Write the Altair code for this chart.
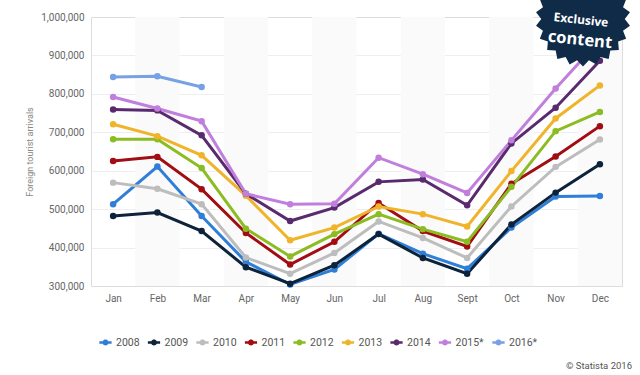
import math
import altair as alt
import pandas as pd

months = ["Jan", "Feb", "Mar", "Apr", "May", "Jun", "Jul", "Aug", "Sept", "Oct", "Nov", "Dec"]
years = ["2008", "2009", "2010", "2011", "2012", "2013", "2014", "2015*", "2016*"]
colors = ["#2f7ed8", "#0d233a", "#bdbdbd", "#a10d12", "#8bbc21", "#f0b42a", "#5a2a6e", "#c07fdc", "#77a1e5"]

# Foreign tourist arrivals (thousands)
v2008 = [513, 611, 482, 363, 304, 343, 436, 384, 345, 452, 533, 534]
v2009 = [482, 491, 443, 349, 306, 354, 435, 373, 332, 460, 543, 617]
v2010 = [569, 553, 513, 374, 332, 386, 468, 425, 373, 507, 610, 681]
v2011 = [625, 636, 552, 438, 356, 415, 516, 443, 403, 566, 637, 716]
v2012 = [682, 682, 607, 449, 377, 435, 487, 448, 415, 558, 703, 753]
v2013 = [721, 690, 640, 535, 419, 452, 507, 487, 455, 599, 736, 822]
v2014 = [759, 757, 692, 540, 469, 504, 571, 577, 510, 671, 764, 886]
v2015 = [792, 762, 729, 540, 513, 514, 634, 591, 542, 679, 814, 940]
v2016 = [844, 846, 818]

series = [v2008, v2009, v2010, v2011, v2012, v2013, v2014, v2015, v2016]
rows = []
for yr, vals in zip(years, series):
    for i, v in enumerate(vals):
        rows.append({"year": yr, "m": i, "month": months[i], "value": v * 1000})
df = pd.DataFrame(rows)

band_idx = [1, 3, 5, 7, 9, 11]
bands = pd.DataFrame({"x": [i - 0.5 for i in band_idx], "x2": [i + 0.5 for i in band_idx]})

W, H = 531, 269

label_expr = "[" + ",".join("'%s'" % m for m in months) + "][datum.value]"

xscale = alt.Scale(domain=[-0.5, 11.5], nice=False, zero=False)
yscale = alt.Scale(domain=[300000, 1000000], nice=False, zero=False)

xaxis = alt.Axis(values=list(range(12)), labelExpr=label_expr, title=None, grid=False,
                 ticks=False, tickSize=0, domain=False, labelPadding=7, labelOverlap=False,
                 labelColor="#666666", labelFontSize=10, labelFont="Roboto")
yaxis = alt.Axis(values=[300000 + 100000 * k for k in range(8)], format=",.0f",
                 title="Foreign tourist arrivals", titleFontSize=9, titleColor="#888888",
                 titleFontWeight="normal", titleFont="Roboto", titlePadding=6,
                 grid=True, gridColor="#dcdcdc", gridDash=[1, 1], gridWidth=1,
                 labelOverlap=False, labelFlush=False,
                 ticks=False, tickSize=0, domain=False, labelPadding=7,
                 labelColor="#666666", labelFontSize=10, labelFont="Roboto")

legend_sym = ("M-1,-0.22L-0.449,-0.22A0.5,0.5 0 0,1 0.449,-0.22L1,-0.22L1,0.22"
              "L0.449,0.22A0.5,0.5 0 0,1 -0.449,0.22L-1,0.22Z")
legend = alt.Legend(
    title=None, orient="none", direction="horizontal", columns=9,
    legendX=8, legendY=319, symbolType=legend_sym, symbolSize=150,
    symbolStrokeWidth=0, symbolOpacity=1, labelFont="Roboto", labelFontSize=10.5,
    labelColor="#555555", labelOffset=4, columnPadding=7.5,
)
color_scale = alt.Scale(domain=years, range=colors)

band_layer = alt.Chart(bands).mark_rect(color="#fafafa").encode(
    x=alt.X("x:Q", scale=xscale, axis=xaxis),
    x2="x2:Q",
    y=alt.value(0),
    y2=alt.value(H),
)

line_layer = alt.Chart(df).mark_line(strokeWidth=3).encode(
    x=alt.X("m:Q", scale=xscale, axis=xaxis),
    y=alt.Y("value:Q", scale=yscale, axis=yaxis),
    color=alt.Color("year:N", scale=color_scale, sort=years, legend=legend),
    detail="year:N",
)

point_layer = alt.Chart(df).mark_circle(size=42, opacity=1).encode(
    x=alt.X("m:Q", scale=xscale, axis=xaxis),
    y=alt.Y("value:Q", scale=yscale, axis=yaxis),
    color=alt.Color("year:N", scale=color_scale, sort=years, legend=legend),
)

# decorative badge ("Exclusive content")
n = 22
pts = []
for k in range(2 * n):
    r = 1.0 if k % 2 == 0 else 0.88
    a = math.pi * k / n - math.pi / 2
    pts.append("%.3f,%.3f" % (r * math.cos(a), r * math.sin(a)))
badge_path = "M" + "L".join(pts) + "Z"

badge = alt.Chart(pd.DataFrame({"t": ["badge"]})).mark_point(
    shape=badge_path, filled=True, color="#102b48", opacity=1, size=9000, strokeWidth=0
).encode(x=alt.value(492), y=alt.value(2))

badge_t1 = alt.Chart(pd.DataFrame({"t": ["Exclusive"]})).mark_text(
    font="Open Sans", fontSize=12, fontWeight="bold", color="white", angle=6,
    align="center", baseline="middle"
).encode(x=alt.value(490), y=alt.value(3), text="t:N")

badge_t2 = alt.Chart(pd.DataFrame({"t": ["content"]})).mark_text(
    font="Open Sans", fontSize=16.5, fontWeight="bold", color="white", angle=6,
    align="center", baseline="middle"
).encode(x=alt.value(489), y=alt.value(23), text="t:N")

credit = alt.Chart(pd.DataFrame({"t": ["© Statista 2016"]})).mark_text(
    font="Roboto", fontSize=9.5, color="#555555", align="right", baseline="middle"
).encode(x=alt.value(541), y=alt.value(349), text="t:N")

chart = alt.layer(
    band_layer, line_layer, point_layer, badge, badge_t1, badge_t2, credit
).properties(
    width=W, height=H,
    autosize=alt.AutoSizeParams(type="none"),
    padding={"left": 91, "top": 17, "right": 18, "bottom": 89},
    background="white",
).configure_view(stroke=None).configure(font="Roboto")

chart.save("out.html", embed_options={"renderer": "svg", "actions": False})
